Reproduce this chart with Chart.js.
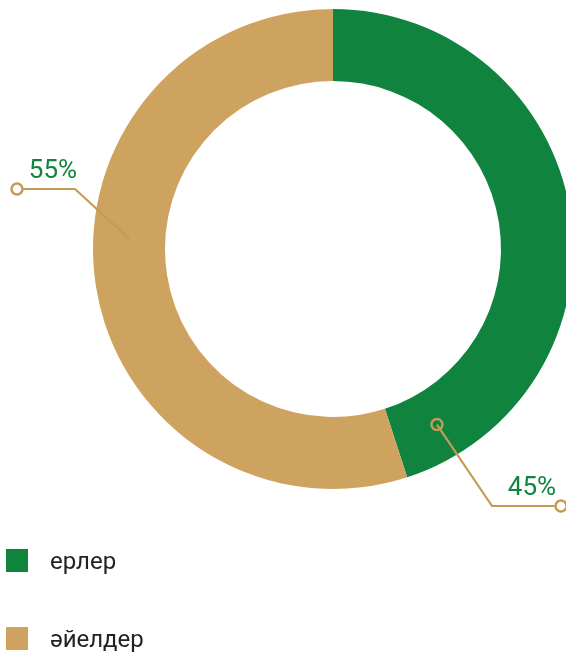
<!DOCTYPE html>
<html><head><meta charset="utf-8">
<script src="https://cdn.jsdelivr.net/npm/chart.js@4/dist/chart.umd.min.js"></script>
<style>
html,body{margin:0;padding:0;background:#fff;overflow:hidden}
#wrap{position:relative;width:566px;height:653px;overflow:hidden}
#c{position:absolute;left:0;top:0}
.leg{position:absolute;left:6px;font-family:Roboto,"Liberation Sans",sans-serif;font-size:24px;color:#222;display:flex;align-items:center}
.leg span.sw{display:inline-block;width:22px;height:23px;margin-right:22px}
</style></head>
<body>
<div id="wrap"><canvas id="c" width="666" height="653"></canvas><div id="legend"></div></div>
<script>
const categories = ["ерлер", "әйелдер"];
const values = [45, 55];
const valueLabels = ["45%", "55%"];
const colors = ["#10843f", "#cda35f"];

const lineColor = "#c49b55";
const leaderPlugin = {
  id: "leaders",
  afterDatasetsDraw(chart, args, opts) {
    const ctx = chart.ctx;
    const meta = chart.getDatasetMeta(0);
    opts.items.forEach((it) => {
      const arc = meta.data[it.index];
      const r = (arc.innerRadius + arc.outerRadius) / 2;
      const a = arc.startAngle + (arc.endAngle - arc.startAngle) * it.frac;
      const ax = arc.x + Math.cos(a) * r, ay = arc.y + Math.sin(a) * r;
      const ex = it.elbow[0], ey = it.elbow[1];
      const tx = it.end[0], ty = it.end[1];
      ctx.save();
      ctx.strokeStyle = lineColor; ctx.lineWidth = 2.2;
      ctx.beginPath(); ctx.moveTo(ax, ay); ctx.lineTo(ex, ey); ctx.lineTo(tx, ty); ctx.stroke();
      ctx.lineWidth = 2.5;
      if (it.anchorCircle) { ctx.beginPath(); ctx.arc(ax, ay, 5.5, 0, Math.PI * 2); ctx.stroke(); }
      ctx.beginPath(); ctx.arc(tx, ty, 5.5, 0, Math.PI * 2); ctx.fillStyle = "#fff"; ctx.fill(); ctx.stroke();
      ctx.fillStyle = colors[0];
      ctx.font = "26px Roboto, 'Liberation Sans', sans-serif";
      ctx.textAlign = "center"; ctx.textBaseline = "alphabetic";
      ctx.fillText(valueLabels[it.index], it.text[0], it.text[1]);
      ctx.restore();
    });
  }
};

new Chart(document.getElementById("c"), {
  type: "doughnut",
  data: { labels: categories, datasets: [{ data: values, backgroundColor: colors, borderWidth: 0, hoverOffset: 0 }] },
  options: {
    responsive: false, animation: false, cutout: "70%",
    layout: { padding: { top: 9, bottom: 164, left: 93, right: 93 } },
    plugins: {
      legend: { display: false }, tooltip: { enabled: false },
      leaders: { items: [
        { index: 0, frac: 0.922, elbow: [492, 506], end: [561, 506], text: [532, 495], anchorCircle: true },
        { index: 1, frac: 0.56, elbow: [75, 189], end: [17, 189], text: [53, 178], anchorCircle: false }
      ] }
    }
  },
  plugins: [leaderPlugin]
});

const legend = document.getElementById("legend");
const legTops = [549, 627];
categories.forEach((c, i) => {
  const d = document.createElement("div");
  d.className = "leg"; d.style.top = legTops[i] + "px"; d.style.height = "23px";
  d.innerHTML = '<span class="sw" style="background:' + colors[i] + '"></span>' + c;
  legend.appendChild(d);
});
</script>
</body></html>
